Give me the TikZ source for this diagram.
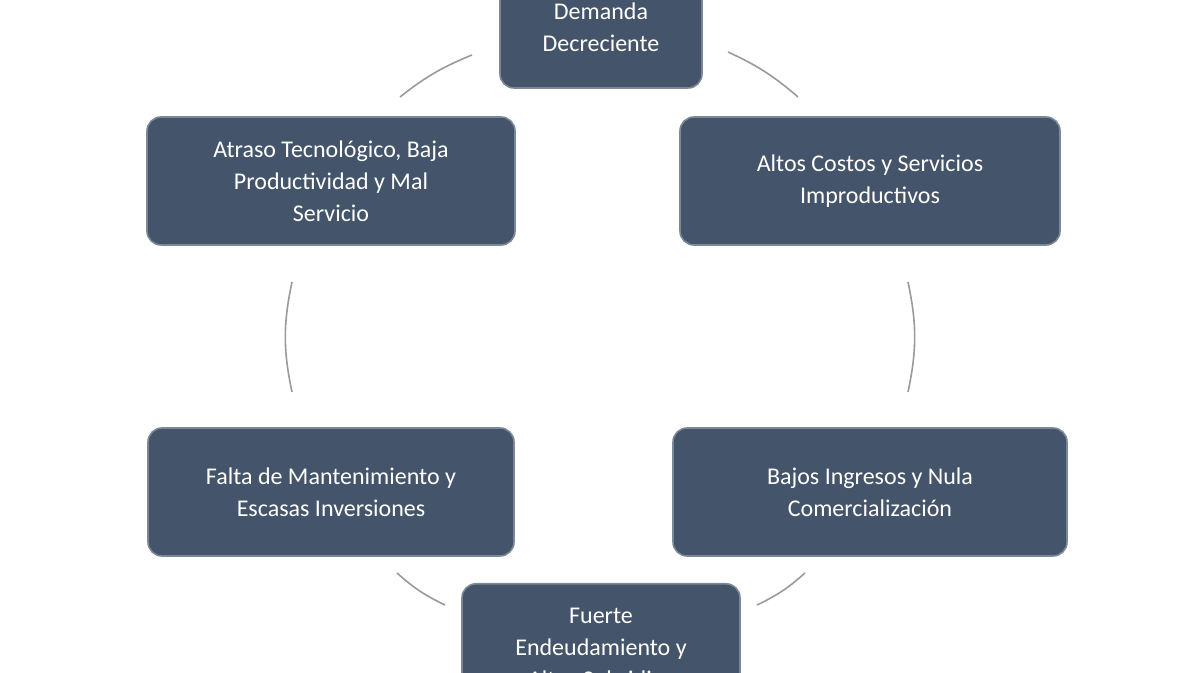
\documentclass[tikz,border=0pt]{standalone}
\usepackage{fontspec}
\setmainfont{Carlito}
\definecolor{boxc}{HTML}{44546A}
\definecolor{arcc}{HTML}{9A9A9A}
\begin{document}
\begin{tikzpicture}[x=0.5pt,y=-0.5pt,
  box/.style={draw=boxc!70!white,line width=0.8pt,fill=boxc,rounded corners=7pt,text=white,align=center,font=\fontsize{12}{16}\selectfont,inner sep=0pt},
  txt/.style={text=white,align=center,font=\fontsize{12}{16}\selectfont,inner sep=0pt},
  arc/.style={draw=arcc,line width=0.8pt}]
\useasboundingbox (0,0) rectangle (1200,673);
\begin{scope}
\clip (0,0) rectangle (1200,673);
\node[box,minimum width=101pt,minimum height=60pt] (top) at (601,28) {};
\node[txt] (toptext) at (601,27) {Demanda\\Decreciente};
\node[box,minimum width=190pt,minimum height=64pt] (r1) at (870,181) {Altos Costos y Servicios\\Improductivos};
\node[box,minimum width=184pt,minimum height=64pt] (l1) at (331,181) {Atraso Tecnológico, Baja\\Productividad y Mal\\Servicio};
\node[box,minimum width=197pt,minimum height=64pt] (r2) at (870,492) {Bajos Ingresos y Nula\\Comercialización};
\node[box,minimum width=183pt,minimum height=64pt] (l2) at (331,492) {Falta de Mantenimiento y\\Escasas Inversiones};
\node[box,minimum width=139pt,minimum height=75pt,anchor=north] (bot) at (601,583) {};
\node[txt] (bottext) at (601,648) {Fuerte\\Endeudamiento y\\Altos Subsidios};
\end{scope}
\coordinate (a1) at (400,97); \coordinate (a2) at (472,55);
\coordinate (b1) at (728,52); \coordinate (b2) at (798,97);
\coordinate (c1) at (908,282); \coordinate (c2) at (908,392);
\coordinate (d1) at (292,282); \coordinate (d2) at (292,392);
\coordinate (e1) at (397,573); \coordinate (e2) at (445,605);
\coordinate (f1) at (757,605); \coordinate (f2) at (805,573);
\draw[arc] (a1) to[bend left=8] (a2);
\draw[arc] (b1) to[bend left=8] (b2);
\draw[arc] (c1) to[bend left=12] (c2);
\draw[arc] (d1) to[bend right=12] (d2);
\draw[arc] (e1) to[bend right=8] (e2);
\draw[arc] (f1) to[bend right=8] (f2);
\end{tikzpicture}
\end{document}
